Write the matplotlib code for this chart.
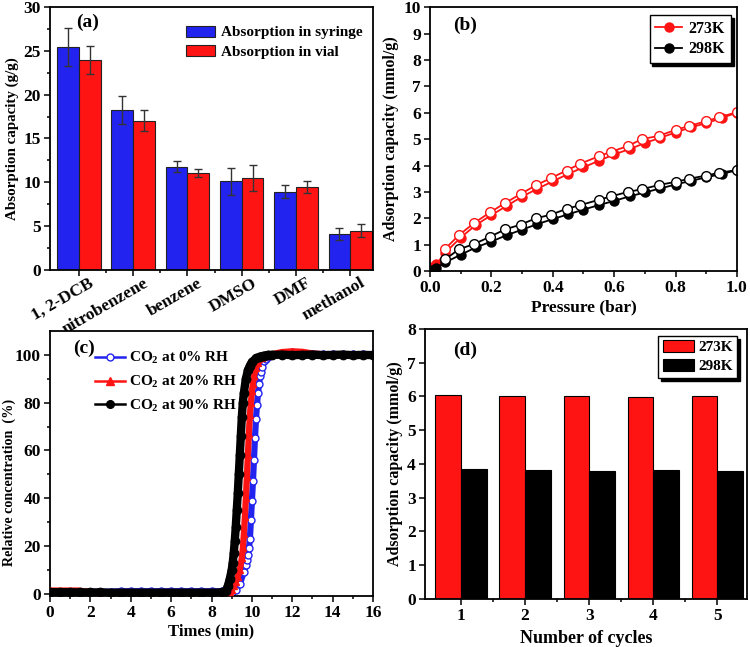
import numpy as np
import matplotlib
matplotlib.use("Agg")
import matplotlib.pyplot as plt
from matplotlib.lines import Line2D
import matplotlib.transforms as mtransforms

plt.rcParams['font.family'] = ['Liberation Serif', 'DejaVu Serif']
plt.rcParams['font.weight'] = 'bold'
plt.rcParams['axes.labelweight'] = 'bold'
plt.rcParams['mathtext.fontset'] = 'custom'
plt.rcParams['mathtext.rm'] = 'Liberation Serif:bold'
plt.rcParams['mathtext.bf'] = 'Liberation Serif:bold'
plt.rcParams['mathtext.it'] = 'Liberation Serif:bold'
plt.rcParams['axes.linewidth'] = 1.3

# ---------------- data ----------------
# (a)
solvents = ['1, 2-DCB', 'nitrobenzene', 'benzene', 'DMSO', 'DMF', 'methanol']
syringe = [25.4, 18.2, 11.8, 10.1, 8.95, 4.1]
syringe_err = [2.15, 1.6, 0.6, 1.5, 0.75, 0.65]
vial = [24.0, 17.0, 11.05, 10.5, 9.5, 4.5]
vial_err = [1.6, 1.2, 0.45, 1.5, 0.7, 0.75]

# (b)
p_ads = [0.005, 0.02, 0.05, 0.10, 0.15, 0.20, 0.25, 0.30, 0.35, 0.40, 0.45, 0.50,
         0.55, 0.60, 0.65, 0.70, 0.75, 0.80, 0.85, 0.90, 0.95, 1.00]
ads273 = [0.15, 0.25, 0.70, 1.27, 1.75, 2.12, 2.47, 2.82, 3.12, 3.40, 3.68, 3.93,
          4.18, 4.42, 4.62, 4.85, 5.05, 5.25, 5.45, 5.60, 5.80, 6.00]
ads298 = [0.05, 0.12, 0.33, 0.62, 0.90, 1.12, 1.36, 1.57, 1.78, 1.97, 2.15, 2.33,
          2.50, 2.66, 2.83, 2.98, 3.13, 3.28, 3.42, 3.55, 3.68, 3.82]
p_des = [1.00, 0.94, 0.90, 0.845, 0.80, 0.745, 0.69, 0.645, 0.59, 0.55, 0.49, 0.445,
         0.395, 0.345, 0.295, 0.245, 0.195, 0.145, 0.095, 0.05]
des273 = [6.02, 5.82, 5.68, 5.50, 5.35, 5.12, 5.00, 4.74, 4.52, 4.35, 4.07, 3.81,
          3.53, 3.25, 2.92, 2.58, 2.22, 1.83, 1.37, 0.85]
des298 = [3.83, 3.72, 3.62, 3.50, 3.38, 3.26, 3.10, 3.00, 2.83, 2.70, 2.50, 2.36,
          2.14, 2.00, 1.76, 1.58, 1.30, 1.03, 0.83, 0.45]

# (c)
t_rh0 = [0.0, 0.5, 1.0, 1.5, 2.0, 2.5, 3.0, 3.5, 4.0, 4.5, 5.0, 5.5, 6.0, 6.5, 7.0, 7.5,
         8.0, 8.5, 9.0, 9.2, 9.4, 9.6, 9.7, 9.75, 9.8, 9.85, 9.9, 9.95, 10.0, 10.05, 10.1,
         10.15, 10.2, 10.25, 10.3, 10.35, 10.4, 10.45, 10.5, 10.6, 10.7, 10.8, 11.0, 11.5,
         12.0, 12.5, 13.0, 13.5, 14.0, 14.5, 15.0, 15.5, 16.0]
c_rh0 = [0.8, 0.8, 0.8, 0.8, 0.8, 0.8, 0.8, 1.0, 1.0, 1.0, 1.0, 1.0, 1.0, 1.0, 1.0, 1.0,
         1.0, 1.0, 0.5, 1.5, 4.0, 9.0, 12.0, 14.0, 16.0, 19.0, 23.0, 31.0, 39.0, 47.0, 56.0,
         65.0, 73.0, 79.0, 84.0, 88.0, 91.0, 93.0, 95.0, 97.3, 98.3, 99.0, 100.0, 100.8,
         101.0, 100.8, 100.5, 100.3, 100.2, 100.2, 100.2, 100.2, 100.2]
t_rh20 = [0.0, 0.5, 1.0, 1.4, 2.0, 2.5, 3.0, 3.5, 4.0, 4.5, 5.0, 5.5, 6.0, 6.5, 7.0, 7.5,
          8.0, 8.5, 8.9, 9.0, 9.1, 9.2, 9.3, 9.4, 9.5, 9.55, 9.6, 9.65, 9.7, 9.75, 9.8, 9.85,
          9.9, 9.95, 10.0, 10.05, 10.1, 10.2, 10.3, 10.5, 10.8, 11.0, 11.5, 12.0, 12.5, 13.0,
          13.5, 14.0, 15.0, 16.0]
c_rh20 = [1.3, 1.3, 1.3, 1.3, 0.6, 0.6, 0.6, 0.6, 0.6, 0.6, 0.6, 0.6, 0.6, 0.6, 0.6, 0.6,
          0.6, 0.6, 0.5, 1.5, 3.0, 5.0, 7.0, 10.0, 15.0, 19.0, 25.0, 32.0, 40.0, 49.0, 58.0, 67.0,
          75.0, 80.0, 85.0, 88.0, 91.0, 94.5, 96.5, 98.5, 99.6, 100.3, 101.2, 101.5, 101.3, 100.6,
          100.3, 100.2, 100.0, 100.0]
t_rh90 = [0.0, 0.5, 1.0, 1.5, 2.0, 2.5, 3.0, 3.5, 4.0, 4.5, 5.0, 5.5, 6.0, 6.5, 7.0, 7.5,
          8.0, 8.5, 8.7, 8.8, 8.9, 9.0, 9.05, 9.1, 9.15, 9.2, 9.25, 9.3, 9.35, 9.4, 9.45, 9.5,
          9.55, 9.6, 9.7, 9.8, 9.9, 10.0, 10.2, 10.4, 10.6, 10.8, 11.0, 11.5, 12.0, 12.5, 13.0,
          13.5, 14.0, 14.5, 15.0, 15.5, 16.0]
c_rh90 = [0.6, 0.6, 0.6, 0.5, 0.5, 0.5, 0.4, 0.4, 0.4, 0.4, 0.4, 0.4, 0.4, 0.4, 0.4, 0.4,
          0.4, 0.5, 1.0, 3.0, 6.0, 10.0, 13.0, 17.0, 22.0, 28.0, 35.0, 42.0, 50.0, 58.0, 66.0, 74.0,
          80.0, 84.0, 90.0, 93.5, 95.5, 97.0, 98.5, 99.3, 99.7, 100.0, 100.0, 100.1, 99.9, 100.0,
          100.1, 99.9, 100.0, 100.1, 99.9, 100.0, 99.9]

# (d)
cycles = [1, 2, 3, 4, 5]
cyc273 = [6.03, 6.00, 6.01, 5.98, 6.00]
cyc298 = [3.84, 3.82, 3.80, 3.82, 3.80]

BLUE = '#2323F0'
RED = '#FF1414'

fig = plt.figure(figsize=(7.5, 6.47), dpi=100)
tick_fs = 12.5


def style(ax):
    ax.tick_params(which='both', direction='out', top=False, right=False,
                   labelsize=tick_fs, width=1.1, pad=2.5)
    ax.tick_params(which='major', length=4)
    ax.tick_params(which='minor', length=2.5)
    for lab in ax.get_xticklabels() + ax.get_yticklabels():
        lab.set_fontweight('bold')


# ---------- (a) ----------
axa = fig.add_axes([0.0667, 0.5827, 0.4307, 0.4066])
x = np.arange(len(solvents))
w = 0.4
ekw = dict(ecolor='#333333', elinewidth=1, capthick=1)
axa.bar(x - w / 2, syringe, w, color=BLUE, edgecolor='#222222', linewidth=0.8,
        yerr=syringe_err, capsize=3, error_kw=ekw, label='Absorption in syringe')
axa.bar(x + w / 2, vial, w, color=RED, edgecolor='#222222', linewidth=0.8,
        yerr=vial_err, capsize=3, error_kw=ekw, label='Absorption in vial')
axa.set_xlim(-0.53, 5.42)
axa.set_ylim(0, 30)
axa.set_yticks(np.arange(0, 31, 5))
axa.set_yticks(np.arange(2.5, 30, 5), minor=True)
axa.set_xticks(x)
axa.set_xticks(x[:-1] + 0.5, minor=True)
axa.set_xticklabels([''] * len(solvents))
style(axa)
off = mtransforms.ScaledTranslation(10 / 100, -5 / 100, fig.dpi_scale_trans)
for xi, name in zip(x, solvents):
    axa.text(xi, 0, name, transform=axa.get_xaxis_transform() + off, rotation=30,
             rotation_mode='anchor', ha='right', va='top', fontsize=tick_fs,
             fontweight='bold')
axa.set_ylabel('Absorption capacity (g/g)', fontsize=10.8, labelpad=3)
axa.text(0.08, 0.94, '(a)', transform=axa.transAxes, fontsize=14, fontweight='bold',
         ha='left', va='center')
axa.legend(loc='upper right', frameon=False, fontsize=11, handlelength=1.9,
           handleheight=0.75, borderaxespad=0.3, labelspacing=0.35,
           bbox_to_anchor=(1.0, 0.97), handletextpad=0.4)

# ---------- (b) ----------
axb = fig.add_axes([0.5733, 0.581, 0.4093, 0.408])
axb.plot(p_ads, ads273, '-', color=RED, lw=1.3, marker='o', ms=6.5, mfc=RED, mec=RED)
axb.plot(p_des, des273, '-', color=RED, lw=1.3, marker='o', ms=7, mfc='white', mec=RED,
         mew=1.0)
axb.plot(p_ads, ads298, '-', color='black', lw=1.3, marker='o', ms=6.5, mfc='black', mec='black')
axb.plot(p_des, des298, '-', color='black', lw=1.3, marker='o', ms=7, mfc='white',
         mec='black', mew=1.0)
axb.set_xlim(0, 1.0)
axb.set_ylim(0, 10)
axb.set_xticks(np.arange(0, 1.01, 0.2))
axb.set_xticks(np.arange(0.1, 1.0, 0.2), minor=True)
axb.set_yticks(np.arange(0, 11, 1))
axb.set_xlabel('Pressure (bar)', fontsize=12.5, labelpad=2)
axb.set_ylabel('Adsorption capacity (mmol/g)', fontsize=11.5, labelpad=3)
style(axb)
axb.text(0.075, 0.93, '(b)', transform=axb.transAxes, fontsize=14, fontweight='bold',
         ha='left', va='center')
hb = [Line2D([], [], color=RED, lw=1.3, marker='o', ms=6.5, mfc=RED),
      Line2D([], [], color='black', lw=1.3, marker='o', ms=6.5, mfc='black')]
lb = axb.legend(hb, ['273K', '298K'], loc='upper right', fontsize=11.5, frameon=True,
                fancybox=False, edgecolor='black', shadow={'color': 'black', 'alpha': 1},
                handlelength=1.7, handletextpad=0.4, borderaxespad=0.0, labelspacing=0.3,
                borderpad=0.35, bbox_to_anchor=(0.98, 0.97))
lb.get_frame().set_linewidth(1.0)

# ---------- (c) ----------
axc = fig.add_axes([0.0667, 0.0788, 0.4307, 0.4096])
axc.plot(t_rh0, c_rh0, '-', color=BLUE, lw=4.5, marker='o', ms=5, mfc='white', mec=BLUE,
         mew=1.0, zorder=2)
axc.plot(t_rh20, c_rh20, '-', color=RED, lw=4.5, marker='^', ms=5, mfc=RED, mec=RED, zorder=3)
axc.plot(t_rh90, c_rh90, '-', color='black', lw=6, marker='o', ms=6, mfc='black',
         mec='black', zorder=4)
axc.set_xlim(0, 16)
axc.set_ylim(-1, 110)
axc.set_xticks(np.arange(0, 17, 2))
axc.set_xticks(np.arange(1, 16, 2), minor=True)
axc.set_yticks(np.arange(0, 101, 20))
axc.set_yticks(np.arange(10, 110, 20), minor=True)
axc.set_xlabel('Times (min)', fontsize=12, labelpad=2)
axc.set_ylabel('Relative concentration  (%)', fontsize=10.2)
axc.yaxis.set_label_coords(-0.104, 0.43)
style(axc)
axc.text(0.07, 0.936, '(c)', transform=axc.transAxes, fontsize=14, fontweight='bold',
         ha='left', va='center')
hc = [Line2D([], [], color=BLUE, lw=1.8, marker='o', ms=5, mfc='white', mec=BLUE),
      Line2D([], [], color=RED, lw=1.8, marker='^', ms=5.5, mfc=RED, mec=RED),
      Line2D([], [], color='black', lw=1.8, marker='o', ms=5.5, mfc='black', mec='black')]
axc.legend(hc, ['CO$_2$ at 0% RH', 'CO$_2$ at 20% RH', 'CO$_2$ at 90% RH'],
           loc='upper left', frameon=False, fontsize=11, handlelength=2.0,
           handletextpad=0.2, labelspacing=0.5, bbox_to_anchor=(0.12, 0.95),
           borderaxespad=0.0)

# ---------- (d) ----------
axd = fig.add_axes([0.5667, 0.0742, 0.4293, 0.4173])
xd = np.array(cycles)
axd.bar(xd - 0.2, cyc273, 0.4, color=RED, edgecolor='black', linewidth=0.8, label='273K')
axd.bar(xd + 0.2, cyc298, 0.4, color='black', edgecolor='black', linewidth=0.8, label='298K')
axd.set_xlim(0.44, 5.46)
axd.set_ylim(0, 8)
axd.set_xticks(cycles)
axd.set_xticks(np.arange(1.5, 5, 1), minor=True)
axd.set_yticks(np.arange(0, 9, 1))
axd.set_xlabel('Number of cycles', fontsize=13, labelpad=4)
axd.set_ylabel('Adsorption capacity (mmol/g)', fontsize=11.5, labelpad=3)
style(axd)
axd.text(0.087, 0.92, '(d)', transform=axd.transAxes, fontsize=14, fontweight='bold',
         ha='left', va='center')
ld = axd.legend(loc='upper right', fontsize=11, frameon=True, fancybox=False,
                edgecolor='black', shadow={'color': 'black', 'alpha': 1},
                handlelength=2.0, handleheight=0.8, borderaxespad=0.0, labelspacing=0.3,
                handletextpad=0.3, borderpad=0.3, bbox_to_anchor=(0.97, 0.975))
ld.get_frame().set_linewidth(1.0)

fig.savefig('out.png', dpi=100)
